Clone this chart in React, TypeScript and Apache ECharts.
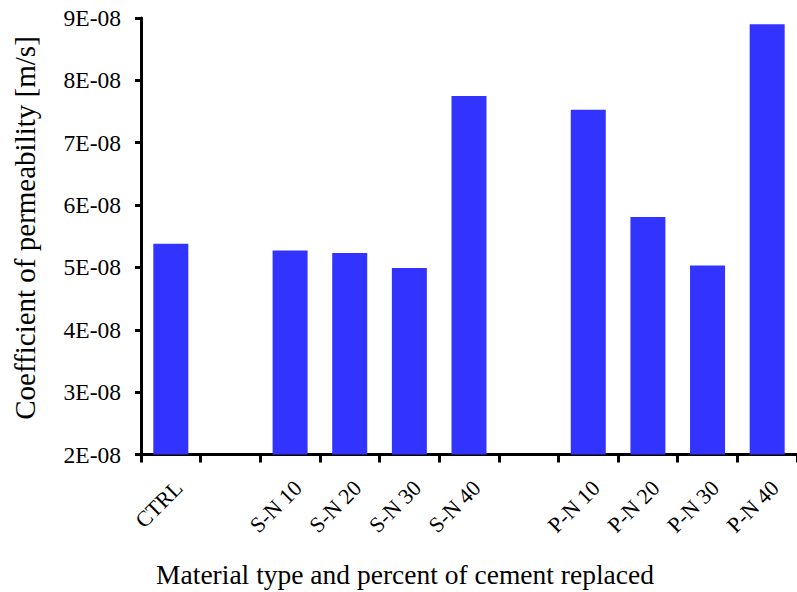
import React, { useEffect, useRef } from "react";
import * as echarts from "echarts";

const categories = ["CTRL", "", "S-N 10", "S-N 20", "S-N 30", "S-N 40", "", "P-N 10", "P-N 20", "P-N 30", "P-N 40"];
const permeability = [5.38e-8, null, 5.27e-8, 5.23e-8, 4.99e-8, 7.75e-8, null, 7.53e-8, 5.81e-8, 5.03e-8, 8.9e-8];
const yMin = 2e-8;
const yMax = 9e-8;
const yStep = 1e-8;
const xTitle = "Material type and percent of cement replaced";
const yTitle = "Coefficient of permeability [m/s]";

const FONT = '"Liberation Serif", "Times New Roman", serif';

export default function App() {
  const ref = useRef<HTMLDivElement>(null);
  useEffect(() => {
    if (!ref.current) return;
    const chart = echarts.init(ref.current, null, { renderer: "svg" });
    chart.setOption({
      animation: false,
      backgroundColor: "#ffffff",
      textStyle: { fontFamily: FONT },
      grid: { left: 141, top: 18, bottom: 137.5, right: -5, containLabel: false },
      xAxis: {
        type: "category",
        data: categories,
        axisLine: { lineStyle: { color: "#000", width: 3 } },
        axisTick: { show: true, length: 8, lineStyle: { color: "#000", width: 3 }, alignWithLabel: false },
        axisLabel: {
          interval: 0,
          rotate: 45,
          margin: 22,
          verticalAlign: "top",
          color: "#000",
          fontSize: 22,
          fontFamily: FONT,
        },
        splitLine: { show: false },
      },
      yAxis: {
        type: "value",
        min: yMin,
        max: yMax,
        interval: yStep,
        axisLine: { show: true, lineStyle: { color: "#000", width: 3 } },
        axisTick: { show: true, length: 6, lineStyle: { color: "#000", width: 3 } },
        axisLabel: {
          margin: 20,
          color: "#000",
          fontSize: 23.5,
          fontFamily: FONT,
          formatter: (v: number) => Math.round(v / yStep) + "E-08",
        },
        splitLine: { show: false },
      },
      graphic: [
        {
          type: "text",
          x: 405,
          y: 574,
          style: {
            text: xTitle,
            textAlign: "center",
            textVerticalAlign: "middle",
            font: "27.5px " + FONT,
            fill: "#000",
          },
        },
        {
          type: "text",
          x: 25,
          y: 228,
          rotation: Math.PI / 2,
          style: {
            text: yTitle,
            textAlign: "center",
            textVerticalAlign: "middle",
            font: "29px " + FONT,
            fill: "#000",
          },
        },
      ],
      series: [
        {
          type: "bar",
          data: permeability,
          barWidth: 35,
          itemStyle: { color: "#3333ff" },
        },
      ],
    });
    return () => chart.dispose();
  }, []);
  return <div ref={ref} style={{ position: "fixed", left: 0, top: 0, width: 797, height: 592 }} />;
}
